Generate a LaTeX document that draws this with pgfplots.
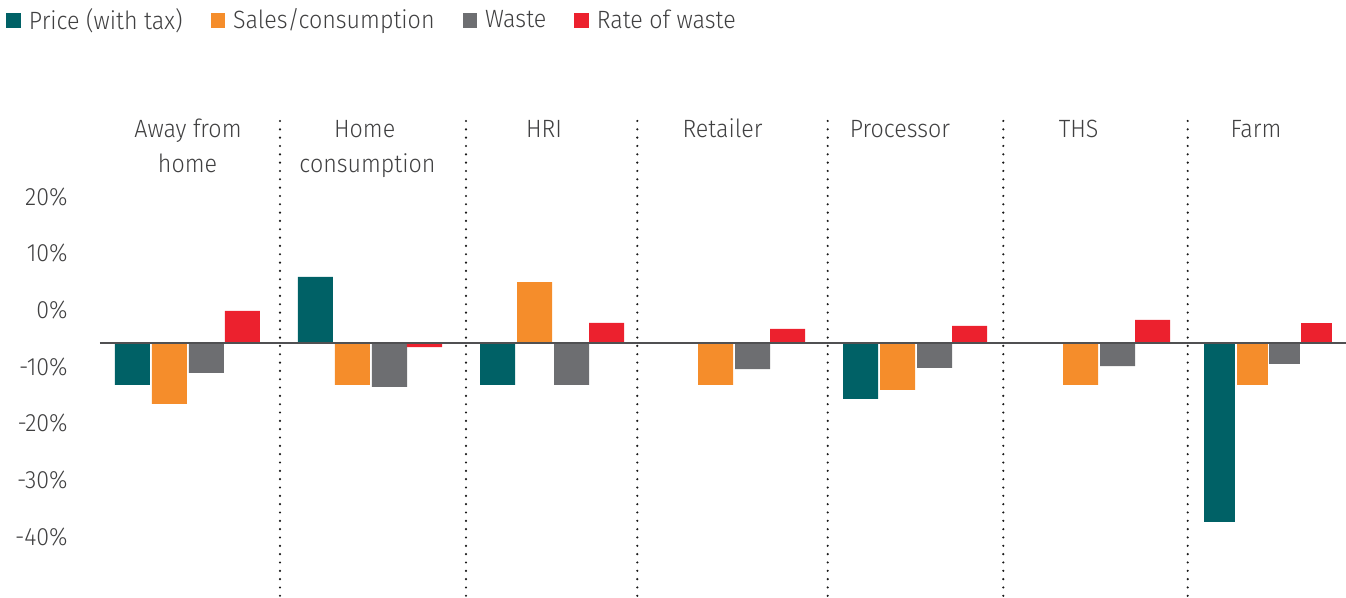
\documentclass[border=0pt]{standalone}
\usepackage{fontspec}
\setmainfont{Fira Sans}[UprightFont={* Light}, FakeStretch=0.93]
\usepackage{pgfplots}
\pgfplotsset{compat=1.18}
\definecolor{cTeal}{HTML}{006166}
\definecolor{cOrange}{HTML}{F58D2B}
\definecolor{cGray}{HTML}{6D6E71}
\definecolor{cRed}{HTML}{EC212E}
\definecolor{cText}{HTML}{404041}
\definecolor{cBase}{HTML}{505052}
\newcommand{\lblfont}{\fontsize{12.5}{15}\selectfont}
\begin{document}
\begin{tikzpicture}[x=1pt,y=1pt]
\path[use as bounding box] (0,0) rectangle (673,299);
\begin{axis}[
  at={(50pt,0pt)}, anchor=south west,
  scale only axis, width=623pt, height=240pt,
  xmin=100, xmax=1346, ymin=-45, ymax=39.706,
  clip=false,
  axis lines*=left, axis line style={draw=none},
  xtick=\empty,
  ytick={25.8,15.8,5.8,-4.2,-14.2,-24.2,-34.2},
  yticklabels={20\%,10\%,0\%,-10\%,-20\%,-30\%,-40\%},
  major tick length=0pt, tick style={draw=none},
  yticklabel style={anchor=east, inner sep=0pt, font=\lblfont, text=cText},
  yticklabel shift=16pt,
  ybar, bar width=17.5pt,
  legend columns=4,
  legend style={at={(axis description cs:-0.0754,1.2375)}, anchor=north west,
    draw=none, fill=none, inner sep=0pt, font=\lblfont, text=cText,
    /tikz/every odd column/.append style={column sep=2pt},
    /tikz/every even column/.append style={column sep=12pt}},
  legend image code/.code={\path[#1] (0pt,-3.6pt) rectangle (7.25pt,3.6pt);},
]
% Price (with tax)
\addplot[fill=cTeal, draw=none, bar shift=0pt] coordinates
  {(132.5,-7.41) (315.5,11.65) (497.5,-7.41) (678.5,0) (860.5,-9.88) (1043.5,0)};
\addlegendentry{Price (with tax)}
% Sales/consumption
\addplot[fill=cOrange, draw=none, bar shift=0pt] coordinates
  {(169.5,-10.76) (352.5,-7.41) (534.5,10.76) (715.5,-7.41) (897.5,-8.29) (1080.5,-7.41)};
\addlegendentry{Sales/consumption}
% Waste
\addplot[fill=cGray, draw=none, bar shift=0pt] coordinates
  {(206.5,-5.29) (389.5,-7.76) (571.5,-7.41) (752.5,-4.59) (934.5,-4.41) (1117.5,-4.06)};
\addlegendentry{Waste}
% Rate of waste
\addplot[fill=cRed, draw=none, bar shift=0pt] coordinates
  {(242.5,5.65) (424.5,-0.71) (606.5,3.53) (787.5,2.47) (969.5,3.0) (1152.5,4.06)};
\addlegendentry{Rate of waste}
% Farm (narrower bars)
\addplot[fill=cTeal, draw=none, bar shift=0pt, bar width=15.5pt, forget plot] coordinates {(1219.5,-31.59)};
\addplot[fill=cOrange, draw=none, bar shift=0pt, bar width=15.5pt, forget plot] coordinates {(1252.5,-7.41)};
\addplot[fill=cGray, draw=none, bar shift=0pt, bar width=15.5pt, forget plot] coordinates {(1284.5,-3.71)};
\addplot[fill=cRed, draw=none, bar shift=0pt, bar width=15.5pt, forget plot] coordinates {(1316.5,3.53)};
% baseline
\draw[cBase, line width=1pt] (axis cs:100,0) -- (axis cs:1346,0);
% separators
\draw[black!90, line width=1.2pt, line cap=round, dash pattern=on 0pt off 4.165pt] (axis cs:280,39.18) -- (axis cs:280,-45);
\draw[black!90, line width=1.2pt, line cap=round, dash pattern=on 0pt off 4.165pt] (axis cs:466,39.18) -- (axis cs:466,-45);
\draw[black!90, line width=1.2pt, line cap=round, dash pattern=on 0pt off 4.165pt] (axis cs:637.3,39.18) -- (axis cs:637.3,-45);
\draw[black!90, line width=1.2pt, line cap=round, dash pattern=on 0pt off 4.165pt] (axis cs:827.7,39.18) -- (axis cs:827.7,-45);
\draw[black!90, line width=1.2pt, line cap=round, dash pattern=on 0pt off 4.165pt] (axis cs:1003.3,39.18) -- (axis cs:1003.3,-45);
\draw[black!90, line width=1.2pt, line cap=round, dash pattern=on 0pt off 4.165pt] (axis cs:1187.7,39.18) -- (axis cs:1187.7,-45);
% category labels
\begin{scope}[every node/.style={anchor=base, inner sep=0pt, font=\lblfont, text=cText}]
\node at (axis cs:188,36.3) {Away from};
\node at (axis cs:187.5,30.05) {home};
\node at (axis cs:364.7,36.3) {Home};
\node at (axis cs:367.5,30.05) {consumption};
\node at (axis cs:544,36.3) {HRI};
\node at (axis cs:722.5,36.3) {Retailer};
\node at (axis cs:900,36.3) {Processor};
\node at (axis cs:1078.7,36.3) {THS};
\node at (axis cs:1256,36.3) {Farm};
\end{scope}
\end{axis}
\end{tikzpicture}
\end{document}
